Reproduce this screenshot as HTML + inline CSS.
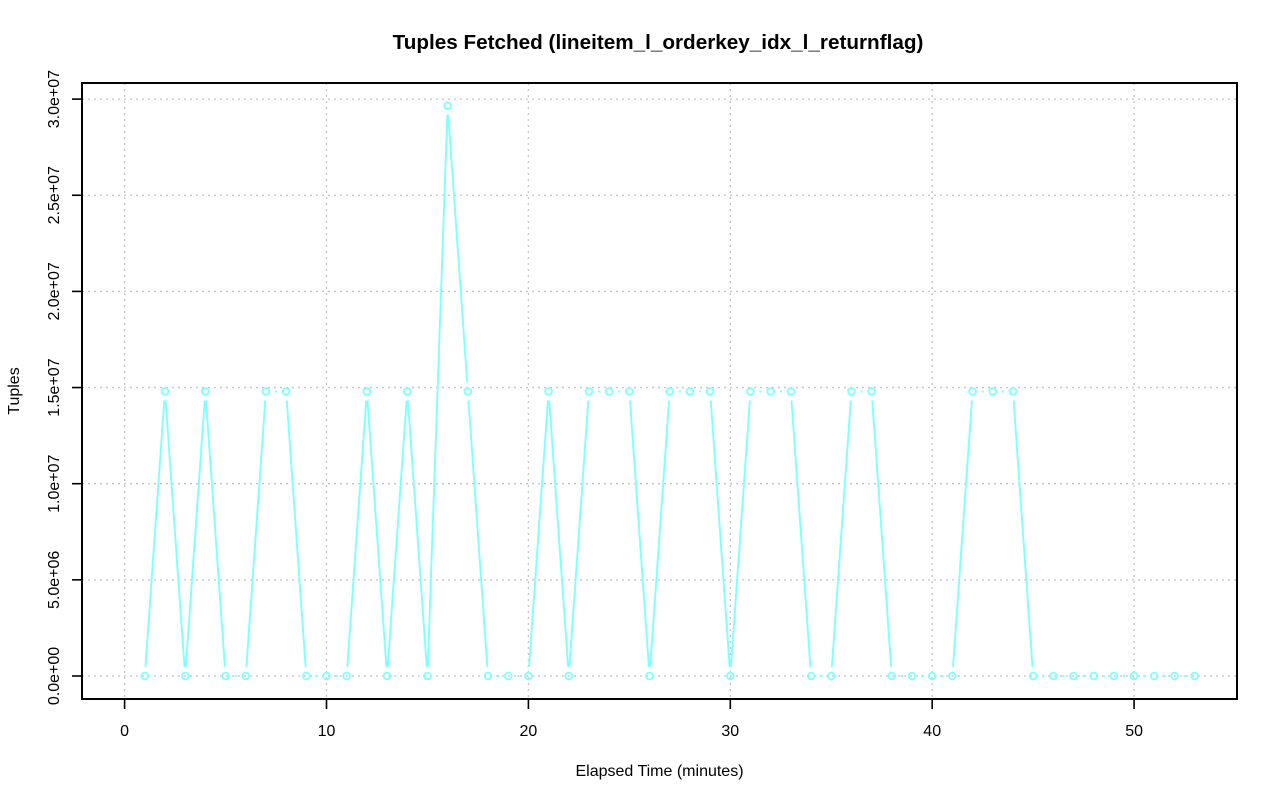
<!DOCTYPE html>
<html>
<head>
<meta charset="utf-8">
<style>
html,body{margin:0;padding:0;background:#fff;}
svg{display:block;}
text{font-family:"Liberation Sans", Arial, sans-serif;fill:#000;}
</style>
</head>
<body>
<svg width="1280" height="801" viewBox="0 0 1280 801" xmlns="http://www.w3.org/2000/svg">
<rect x="0" y="0" width="1280" height="801" fill="#fff"/>
<defs>
<g id="pts">
<circle cx="144.79" cy="676" r="3.4"/><circle cx="164.98" cy="391.4" r="3.4"/><circle cx="185.17" cy="676" r="3.4"/><circle cx="205.36" cy="391.4" r="3.4"/><circle cx="225.55" cy="676" r="3.4"/><circle cx="245.74" cy="676" r="3.4"/><circle cx="265.93" cy="391.4" r="3.4"/><circle cx="286.12" cy="391.4" r="3.4"/><circle cx="306.31" cy="676" r="3.4"/><circle cx="326.5" cy="676" r="3.4"/><circle cx="346.69" cy="676" r="3.4"/><circle cx="366.88" cy="391.4" r="3.4"/><circle cx="387.07" cy="676" r="3.4"/><circle cx="407.26" cy="391.4" r="3.4"/><circle cx="427.45" cy="676" r="3.4"/><circle cx="447.64" cy="105.7" r="3.4"/><circle cx="467.83" cy="391.4" r="3.4"/><circle cx="488.02" cy="676" r="3.4"/><circle cx="508.21" cy="676" r="3.4"/><circle cx="528.4" cy="676" r="3.4"/><circle cx="548.59" cy="391.4" r="3.4"/><circle cx="568.78" cy="676" r="3.4"/><circle cx="588.97" cy="391.4" r="3.4"/><circle cx="609.16" cy="391.4" r="3.4"/><circle cx="629.35" cy="391.4" r="3.4"/><circle cx="649.54" cy="676" r="3.4"/><circle cx="669.73" cy="391.4" r="3.4"/><circle cx="689.92" cy="391.4" r="3.4"/><circle cx="710.11" cy="391.4" r="3.4"/><circle cx="730.3" cy="676" r="3.4"/><circle cx="750.49" cy="391.4" r="3.4"/><circle cx="770.68" cy="391.4" r="3.4"/><circle cx="790.87" cy="391.4" r="3.4"/><circle cx="811.06" cy="676" r="3.4"/><circle cx="831.25" cy="676" r="3.4"/><circle cx="851.44" cy="391.4" r="3.4"/><circle cx="871.63" cy="391.4" r="3.4"/><circle cx="891.82" cy="676" r="3.4"/><circle cx="912.01" cy="676" r="3.4"/><circle cx="932.2" cy="676" r="3.4"/><circle cx="952.39" cy="676" r="3.4"/><circle cx="972.58" cy="391.4" r="3.4"/><circle cx="992.77" cy="391.4" r="3.4"/><circle cx="1012.96" cy="391.4" r="3.4"/><circle cx="1033.15" cy="676" r="3.4"/><circle cx="1053.34" cy="676" r="3.4"/><circle cx="1073.53" cy="676" r="3.4"/><circle cx="1093.72" cy="676" r="3.4"/><circle cx="1113.91" cy="676" r="3.4"/><circle cx="1134.1" cy="676" r="3.4"/><circle cx="1154.29" cy="676" r="3.4"/><circle cx="1174.48" cy="676" r="3.4"/><circle cx="1194.67" cy="676" r="3.4"/>
</g>
<mask id="gap" maskUnits="userSpaceOnUse" x="0" y="0" width="1280" height="801">
<rect x="0" y="0" width="1280" height="801" fill="#fff"/>
<use href="#pts" fill="#000" stroke="#000" stroke-width="11.4"/>
</mask>
</defs>

<!-- grid -->
<g stroke="#c4c4c4" stroke-width="1.3" stroke-dasharray="2 4" fill="none">
<line x1="124.6" y1="83" x2="124.6" y2="699"/>
<line x1="326.5" y1="83" x2="326.5" y2="699"/>
<line x1="528.4" y1="83" x2="528.4" y2="699"/>
<line x1="730.3" y1="83" x2="730.3" y2="699"/>
<line x1="932.2" y1="83" x2="932.2" y2="699"/>
<line x1="1134.1" y1="83" x2="1134.1" y2="699"/>
<line x1="82" y1="676" x2="1237" y2="676"/>
<line x1="82" y1="579.85" x2="1237" y2="579.85"/>
<line x1="82" y1="483.7" x2="1237" y2="483.7"/>
<line x1="82" y1="387.55" x2="1237" y2="387.55"/>
<line x1="82" y1="291.4" x2="1237" y2="291.4"/>
<line x1="82" y1="195.25" x2="1237" y2="195.25"/>
<line x1="82" y1="99.1" x2="1237" y2="99.1"/>
</g>

<!-- series line -->
<polyline mask="url(#gap)" fill="none" stroke="#80ffff" stroke-width="1.9" stroke-linejoin="round" points="144.79,676 164.98,391.4 185.17,676 205.36,391.4 225.55,676 245.74,676 265.93,391.4 286.12,391.4 306.31,676 326.5,676 346.69,676 366.88,391.4 387.07,676 407.26,391.4 427.45,676 447.64,105.7 467.83,391.4 488.02,676 508.21,676 528.4,676 548.59,391.4 568.78,676 588.97,391.4 609.16,391.4 629.35,391.4 649.54,676 669.73,391.4 689.92,391.4 710.11,391.4 730.3,676 750.49,391.4 770.68,391.4 790.87,391.4 811.06,676 831.25,676 851.44,391.4 871.63,391.4 891.82,676 912.01,676 932.2,676 952.39,676 972.58,391.4 992.77,391.4 1012.96,391.4 1033.15,676 1053.34,676 1073.53,676 1093.72,676 1113.91,676 1134.1,676 1154.29,676 1174.48,676 1194.67,676"/>
<use href="#pts" fill="none" stroke="#80ffff" stroke-width="1.8"/>

<!-- box -->
<rect x="82" y="83" width="1155" height="616" fill="none" stroke="#000" stroke-width="2"/>

<!-- ticks -->
<g stroke="#000" stroke-width="1.6">
<line x1="124.6" y1="699" x2="124.6" y2="709"/>
<line x1="326.5" y1="699" x2="326.5" y2="709"/>
<line x1="528.4" y1="699" x2="528.4" y2="709"/>
<line x1="730.3" y1="699" x2="730.3" y2="709"/>
<line x1="932.2" y1="699" x2="932.2" y2="709"/>
<line x1="1134.1" y1="699" x2="1134.1" y2="709"/>
<line x1="72" y1="676" x2="82" y2="676"/>
<line x1="72" y1="579.85" x2="82" y2="579.85"/>
<line x1="72" y1="483.7" x2="82" y2="483.7"/>
<line x1="72" y1="387.55" x2="82" y2="387.55"/>
<line x1="72" y1="291.4" x2="82" y2="291.4"/>
<line x1="72" y1="195.25" x2="82" y2="195.25"/>
<line x1="72" y1="99.1" x2="82" y2="99.1"/>
</g>

<!-- x tick labels -->
<g font-size="16" text-anchor="middle">
<text x="124.6" y="736">0</text>
<text x="326.5" y="736">10</text>
<text x="528.4" y="736">20</text>
<text x="730.3" y="736">30</text>
<text x="932.2" y="736">40</text>
<text x="1134.1" y="736">50</text>
</g>

<!-- y tick labels -->
<g font-size="16" text-anchor="middle">
<text transform="translate(59,676) rotate(-90)">0.0e+00</text>
<text transform="translate(59,579.85) rotate(-90)">5.0e+06</text>
<text transform="translate(59,483.7) rotate(-90)">1.0e+07</text>
<text transform="translate(59,387.55) rotate(-90)">1.5e+07</text>
<text transform="translate(59,291.4) rotate(-90)">2.0e+07</text>
<text transform="translate(59,195.25) rotate(-90)">2.5e+07</text>
<text transform="translate(59,99.1) rotate(-90)">3.0e+07</text>
</g>

<!-- axis titles -->
<text x="659.5" y="776" font-size="16" text-anchor="middle">Elapsed Time (minutes)</text>
<text transform="translate(19,391) rotate(-90)" font-size="16" text-anchor="middle">Tuples</text>
<text x="658" y="49" font-size="20.7" font-weight="bold" text-anchor="middle">Tuples Fetched (lineitem_l_orderkey_idx_l_returnflag)</text>
</svg>
</body>
</html>
